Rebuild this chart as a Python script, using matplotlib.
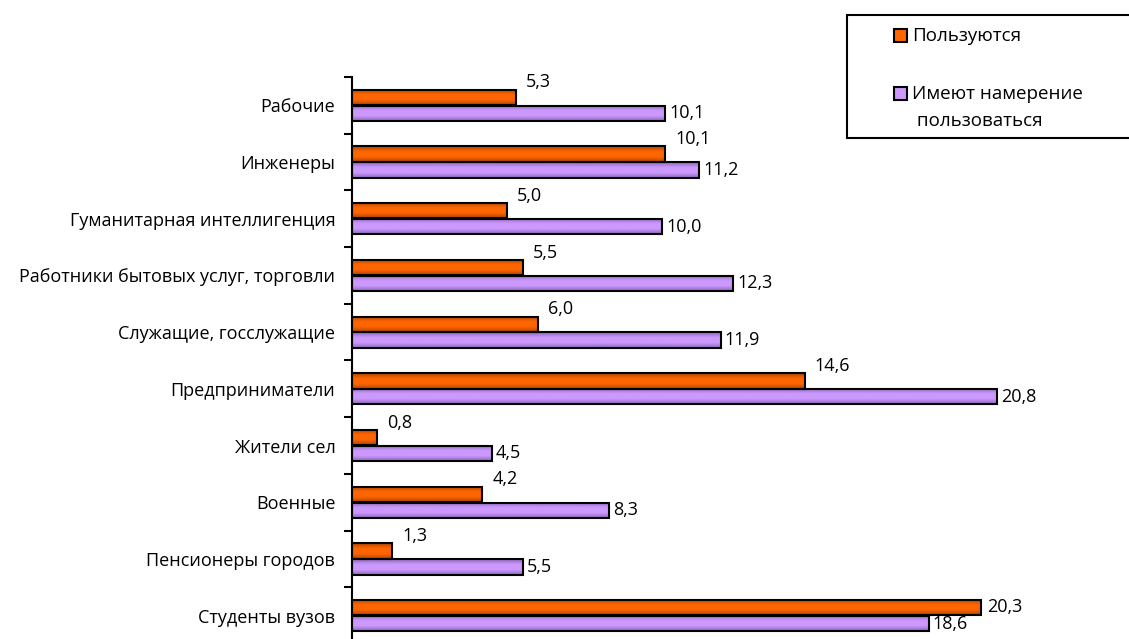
import numpy as np
import matplotlib.pyplot as plt
from matplotlib.colors import LinearSegmentedColormap
from matplotlib.patches import Rectangle

plt.rcParams['font.family'] = ['Open Sans', 'DejaVu Sans']

categories = [
    "Рабочие",
    "Инженеры",
    "Гуманитарная интеллигенция",
    "Работники бытовых услуг, торговли",
    "Служащие, госслужащие",
    "Предприниматели",
    "Жители сел",
    "Военные",
    "Пенсионеры городов",
    "Студенты вузов",
]
use_now = [5.3, 10.1, 5.0, 5.5, 6.0, 14.6, 0.8, 4.2, 1.3, 20.3]
intend = [10.1, 11.2, 10.0, 12.3, 11.9, 20.8, 4.5, 8.3, 5.5, 18.6]
series_names = ["Пользуются", "Имеют намерение\n пользоваться"]

ORANGE = "#ff6600"
ORANGE_DARK = "#b04600"
PURPLE = "#cc99ff"
PURPLE_DARK = "#8e68b8"
FS = 13


def fmt(v):
    return f"{v:.1f}".replace(".", ",")


def shade(ax, bars, light, dark):
    # vertical gradient inside each bar, darker toward the top and bottom edges
    cmap = LinearSegmentedColormap.from_list("g", [dark, light, light, dark])
    grad = np.linspace(0, 1, 64).reshape(-1, 1)
    for b in bars:
        x0, y0 = b.get_x(), b.get_y()
        im = ax.imshow(grad, cmap=cmap, aspect="auto", interpolation="bicubic",
                       extent=(x0, x0 + b.get_width(), y0, y0 + b.get_height()),
                       zorder=2)
        im.set_clip_path(b)


fig = plt.figure(figsize=(11.29, 6.39), dpi=100)
ax = fig.add_axes([352 / 1129, 1 - 644 / 639, 775 / 1129, 567 / 639])

y = np.arange(len(categories))
h = 0.27
off = 0.14
b1 = ax.barh(y - off, use_now, height=h, color=ORANGE, edgecolor="black",
             linewidth=1.5, zorder=3)
b2 = ax.barh(y + off, intend, height=h, color=PURPLE, edgecolor="black",
             linewidth=1.5, zorder=3)
for b in list(b1) + list(b2):
    b.set_facecolor("none")
shade(ax, b1, ORANGE, ORANGE_DARK)
shade(ax, b2, PURPLE, PURPLE_DARK)

ax.set_xlim(0, 25)
ax.set_ylim(len(categories) - 0.5, -0.5)

for i, (v, w) in enumerate(zip(use_now, intend)):
    if i == len(categories) - 1:
        ax.annotate(fmt(v), (v, i - off), xytext=(6, 1), textcoords="offset pixels",
                    ha="left", va="center", fontsize=FS)
    else:
        ax.annotate(fmt(v), (v, i - off), xytext=(10, 15), textcoords="offset pixels",
                    ha="left", va="center", fontsize=FS)
    ax.annotate(fmt(w), (w, i + off), xytext=(4, 0), textcoords="offset pixels",
                ha="left", va="center", fontsize=FS)

for s in ("top", "right", "bottom"):
    ax.spines[s].set_visible(False)
ax.spines["left"].set_linewidth(1.5)
ax.set_xticks([])
ax.set_yticks(y)
ax.set_yticklabels(categories, fontsize=FS)
ax.tick_params(axis="y", which="major", length=0, pad=12)
ax.set_yticks(np.arange(-0.5, len(categories), 1), minor=True)
ax.tick_params(axis="y", which="minor", length=6, width=1.5, direction="out")

# legend box, running off the right edge
fig.patches.append(Rectangle((847 / 1129, 1 - 138 / 639), 0.3, 123 / 639,
                             transform=fig.transFigure, facecolor="white",
                             edgecolor="black", linewidth=1.5, clip_on=False))
for (ypx, col, name) in [(35, ORANGE, series_names[0]), (93, PURPLE, series_names[1])]:
    fig.patches.append(Rectangle((894 / 1129, 1 - (ypx + 7) / 639), 13 / 1129, 13 / 639,
                                 transform=fig.transFigure, facecolor=col,
                                 edgecolor="black", linewidth=1.5))
    fig.text(912 / 1129, 1 - (ypx - 8) / 639, name, fontsize=13.5, ha="left", va="top",
             linespacing=1.65)

fig.savefig("out.png", dpi=100)
